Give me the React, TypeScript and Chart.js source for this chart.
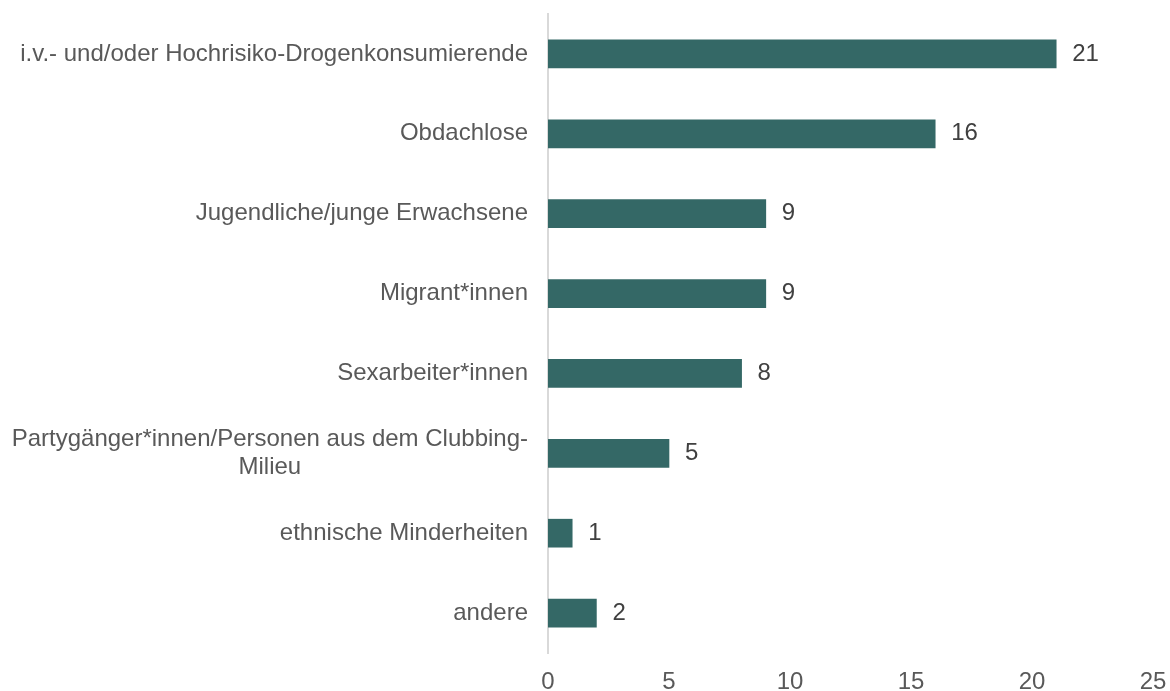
import React, { useEffect, useRef } from "react";
import { Chart, registerables } from "chart.js";

Chart.register(...registerables);

const categories: (string | string[])[] = [
  "i.v.- und/oder Hochrisiko-Drogenkonsumierende",
  "Obdachlose",
  "Jugendliche/junge Erwachsene",
  "Migrant*innen",
  "Sexarbeiter*innen",
  ["Partygänger*innen/Personen aus dem Clubbing-", "Milieu"],
  "ethnische Minderheiten",
  "andere",
];
const values = [21, 16, 9, 9, 8, 5, 1, 2];
const xTicks = [0, 5, 10, 15, 20, 25];

const FONT = "'Liberation Sans', Arial, sans-serif";
const BAR_COLOR = "#346866";
const LABEL_COLOR = "#595959";
const VALUE_COLOR = "#404040";

const W = 1170;
const H = 691;

const labelPlugin = {
  id: "customLabels",
  afterDraw(chart: any) {
    const ctx = chart.ctx;
    const yScale = chart.scales.y;
    const xScale = chart.scales.x;
    ctx.save();
    ctx.font = `24px ${FONT}`;
    ctx.fillStyle = LABEL_COLOR;
    ctx.textBaseline = "middle";
    const rightX = xScale.left - 20;
    const lineH = 28;
    categories.forEach((c, i) => {
      const lines = Array.isArray(c) ? c : [c];
      const yc = yScale.getPixelForValue(i);
      const widths = lines.map((l) => ctx.measureText(l).width);
      const maxW = Math.max(...widths);
      const blockCenter = rightX - maxW / 2;
      lines.forEach((l, j) => {
        const y = yc + (j - (lines.length - 1) / 2) * lineH;
        ctx.textAlign = "center";
        ctx.fillText(l, blockCenter, y);
      });
    });
    ctx.fillStyle = VALUE_COLOR;
    ctx.textAlign = "left";
    const meta = chart.getDatasetMeta(0);
    meta.data.forEach((bar: any, i: number) => {
      ctx.fillText(String(values[i]), bar.x + 16, bar.y);
    });
    ctx.restore();
  },
};

export default function App() {
  const ref = useRef<HTMLCanvasElement | null>(null);
  useEffect(() => {
    document.body.style.overflow = "hidden";
    const chart = new Chart(ref.current as HTMLCanvasElement, {
      type: "bar",
      data: {
        labels: categories as any,
        datasets: [
          {
            data: values,
            backgroundColor: BAR_COLOR,
            barThickness: 28,
          },
        ],
      },
      options: {
        indexAxis: "y",
        animation: false,
        responsive: false,
        maintainAspectRatio: false,
        layout: {
          autoPadding: false,
          padding: { top: 14, left: 0, right: 17, bottom: -20 },
        },
        plugins: {
          legend: { display: false },
          tooltip: { enabled: false },
        },
        scales: {
          x: {
            min: 0,
            max: 25,
            afterBuildTicks: (scale: any) => {
              scale.ticks = xTicks.map((v) => ({ value: v }));
            },
            afterFit: (scale: any) => {
              scale.paddingLeft = 0;
              scale.paddingRight = 17;
            },
            grid: { display: false, drawTicks: false },
            border: { display: false },
            ticks: {
              padding: 17,
              maxRotation: 0,
              color: LABEL_COLOR,
              font: { family: FONT, size: 24, lineHeight: 1 },
            },
          },
          y: {
            afterFit: (scale: any) => {
              scale.width = 548;
            },
            grid: { display: false, drawTicks: false },
            border: { display: true, color: "#d9d9d9", width: 2 },
            ticks: { display: false },
          },
        },
      },
      plugins: [labelPlugin],
    });
    return () => chart.destroy();
  }, []);
  return (
    <div style={{ position: "absolute", left: 0, top: 0, width: W, height: H, overflow: "hidden" }}>
      <canvas ref={ref} width={W} height={H} style={{ display: "block" }} />
    </div>
  );
}
